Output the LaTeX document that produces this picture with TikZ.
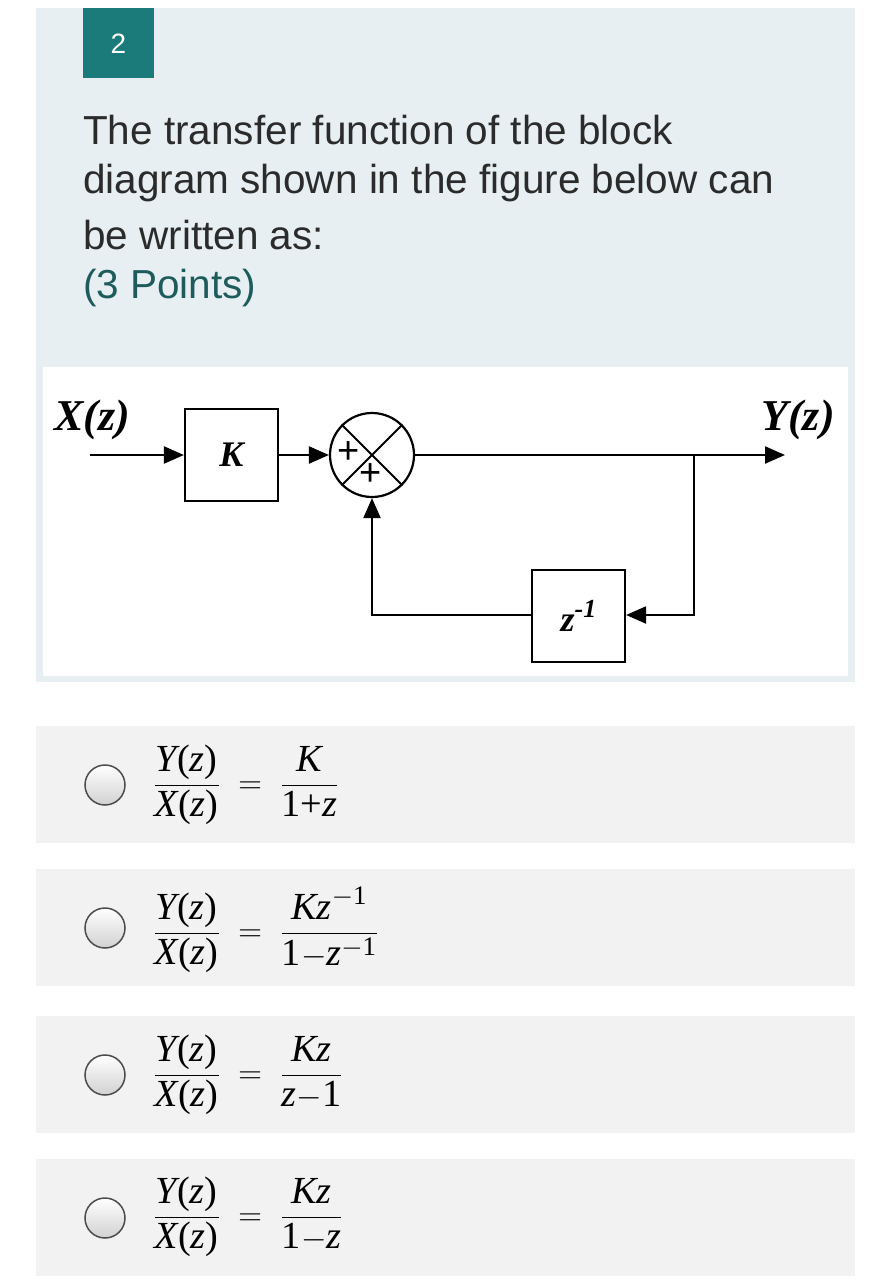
\documentclass[tikz,border=0pt]{standalone}
\usepackage{amsmath}
\usepackage{graphicx}
\usepackage{fontspec}
\setmainfont{Liberation Sans}
\newfontfamily\serifb{Liberation Serif}
\usetikzlibrary{arrows.meta}
\definecolor{panel}{HTML}{E7EFF2}
\definecolor{teal}{HTML}{1B7B7B}
\definecolor{opt}{HTML}{F2F2F2}
\definecolor{qtxt}{HTML}{2B2B2B}
\definecolor{pts}{HTML}{1E5C5C}
\newcommand{\ti}[1]{\text{\serifb\itshape #1}}
\newcommand{\tr}[1]{\text{\serifb #1}}
\newcommand{\eqbox}[1]{\scalebox{1.32}{#1}}
\tikzset{
  blk/.style={draw, line width=2.2pt, minimum width=93pt, minimum height=92pt, inner sep=0pt},
  sig/.style={line width=2.2pt, -{Triangle[length=20pt,width=17pt]}},
  qt/.style={anchor=west, font=\fontsize{40.5}{44}\selectfont, text=qtxt, inner sep=0pt},
  eq/.style={anchor=west, font=\fontsize{29}{34}\selectfont, inner sep=0pt},
  radio/.style={circle, draw=black!70, line width=1.5pt, minimum size=40pt, inner sep=0pt, top color=white, bottom color=black!18},
  sl/.style={font=\serifb\bfseries\itshape\fontsize{44}{48}\selectfont, inner sep=0pt}
}
\begin{document}
\begin{tikzpicture}[x=1pt,y=-1pt]
\useasboundingbox (0,0) rectangle (890,1280);
\fill[white] (0,0) rectangle (890,1280);
\fill[panel] (36,8) rectangle (855,682);
\fill[teal] (83,8) rectangle (154,78);
\node[text=white, font=\fontsize{28}{32}\selectfont] (num) at (118.5,44) {2};
\node[qt] (l1) at (83,130) {The transfer function of the block};
\node[qt] (l2) at (83,183) {diagram shown in the figure below can};
\node[qt] (l3) at (83,235) {be written as:};
\node[qt, text=pts] (l4) at (83,288) {(3 Points)};
\fill[white] (43,367) rectangle (848,676);
% diagram
\node[sl] (X) at (92,420) {X(z)};
\node[sl] (Y) at (798,420) {Y(z)};
\coordinate (xin) at (90,455);
\node[blk] (K) at (231.5,455) {\serifb\bfseries\itshape\fontsize{36}{40}\selectfont K};
\node[circle, draw, line width=2.2pt, minimum size=84pt, inner sep=0pt] (S) at (372,455) {};
\draw[line width=2pt] (S.north west) -- (S.south east) (S.north east) -- (S.south west);
\node[font=\fontsize{38}{38}\selectfont, inner sep=0pt] (p1) at (349,453) {+};
\node[font=\fontsize{38}{38}\selectfont, inner sep=0pt] (p2) at (371,475) {+};
\node[blk] (D) at (578.5,616) {\serifb\bfseries\itshape\fontsize{36}{40}\selectfont z\raisebox{14pt}{\fontsize{26}{28}\selectfont -1}};
\coordinate (yout) at (785,455);
\coordinate (br) at (694,455);
\coordinate (brd) at (694,615);
\coordinate (fl) at (372,615);
\draw[sig] (xin) -- (K.west);
\draw[sig] (K.east) -- (S.west);
\draw[sig] (S.east) -- (yout);
\draw[sig] (br) -- (brd) -- (D.east |- brd);
\draw[sig] (D.west |- fl) -- (fl) -- (S.south);
% options
\foreach \y/\n in {726/a,869/b,1016/c,1159/d}{
  \fill[opt] (36,\y) rectangle (855,\y+117);
  \node[radio] (r\n) at (105,\y+59) {};
}
\node[eq] (ea) at (153,785) {\eqbox{$\dfrac{\ti{Y}\tr{(}\ti{z}\tr{)}}{\ti{X}\tr{(}\ti{z}\tr{)}} \;=\; \dfrac{\ti{K}}{\tr{1+}\ti{z}}$}};
\node[eq] (eb) at (153,930) {\eqbox{$\dfrac{\ti{Y}\tr{(}\ti{z}\tr{)}}{\ti{X}\tr{(}\ti{z}\tr{)}} \;=\; \dfrac{\ti{Kz}^{\tr{\(-\)1}}}{\tr{1\(-\)}\ti{z}^{\tr{\(-\)1}}}$}};
\node[eq] (ec) at (153,1075) {\eqbox{$\dfrac{\ti{Y}\tr{(}\ti{z}\tr{)}}{\ti{X}\tr{(}\ti{z}\tr{)}} \;=\; \dfrac{\ti{Kz}}{\ti{z}\tr{\(-\)1}}$}};
\node[eq] (ed) at (153,1217) {\eqbox{$\dfrac{\ti{Y}\tr{(}\ti{z}\tr{)}}{\ti{X}\tr{(}\ti{z}\tr{)}} \;=\; \dfrac{\ti{Kz}}{\tr{1\(-\)}\ti{z}}$}};
\end{tikzpicture}
\end{document}
